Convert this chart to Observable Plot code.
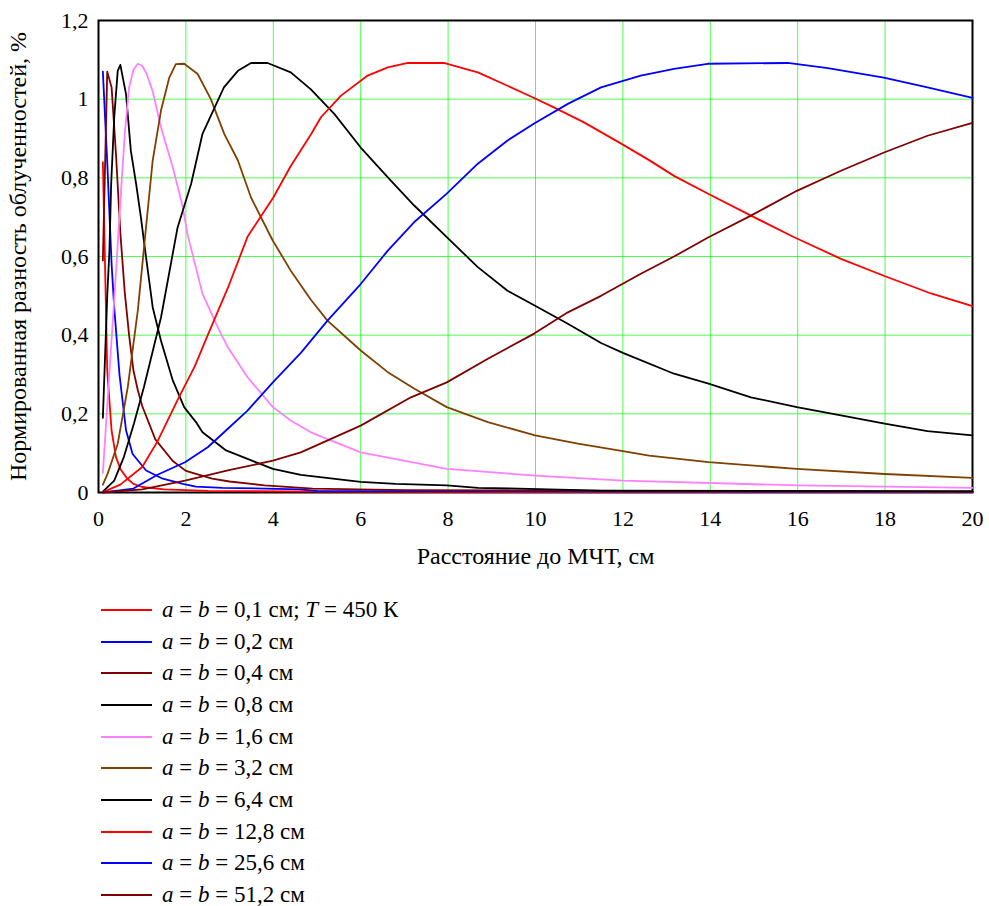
<!DOCTYPE html>
<html lang="ru">
<head>
<meta charset="utf-8">
<script src="https://cdn.jsdelivr.net/npm/d3@7"></script>
<script src="https://cdn.jsdelivr.net/npm/@observablehq/plot@0.6"></script>
<style>
  html, body { margin: 0; padding: 0; background: #fff; }
  #chart { width: 989px; }
  .legend { font-family: "Liberation Serif"; font-size: 23px; color: #000; margin-left: 101px; }
  .legend .row { display: flex; align-items: center; height: 31.7px; line-height: 20px; }
  .legend svg { display: block; margin-right: 10px; }
</style>
</head>
<body>
<div id="chart"></div>
<script>
// ---- data ----
const xTicks = [0, 2, 4, 6, 8, 10, 12, 14, 16, 18, 20];
const yTicks = [0, 0.2, 0.4, 0.6, 0.8, 1, 1.2];

const labels = [
  "<i>a</i> = <i>b</i> = 0,1 см; <i>T</i> = 450 К",
  "<i>a</i> = <i>b</i> = 0,2 см",
  "<i>a</i> = <i>b</i> = 0,4 см",
  "<i>a</i> = <i>b</i> = 0,8 см",
  "<i>a</i> = <i>b</i> = 1,6 см",
  "<i>a</i> = <i>b</i> = 3,2 см",
  "<i>a</i> = <i>b</i> = 6,4 см",
  "<i>a</i> = <i>b</i> = 12,8 см",
  "<i>a</i> = <i>b</i> = 25,6 см",
  "<i>a</i> = <i>b</i> = 51,2 см"
];
const colors = ["#ff0000", "#0000ff", "#800000", "#000000", "#ff80ff", "#804000", "#000000", "#ff0000", "#0000ff", "#800000"];

const x01 = [0.1,0.2,0.3,0.4,0.5,0.66,0.8,1.0,1.5,2.5,5,10,20];
const y01 = [0.84,0.31,0.157,0.09,0.06,0.035,0.022,0.014,0.008,0.004,0.002,0.001,0.001];

const x02 = [0.1,0.2,0.3,0.36,0.48,0.63,0.78,1.09,1.47,1.93,2.23,2.84,4.6,5,10,20];
const y02 = [1.07,0.84,0.58,0.47,0.30,0.158,0.098,0.056,0.035,0.022,0.015,0.012,0.008,0.004,0.003,0.002];

const x04 = [0.1,0.2,0.3,0.4,0.5,0.6,0.7,0.8,0.9,1.0,1.3,1.7,2.0,2.6,3.0,3.8,4.9,7,12,20];
const y04 = [0.59,1.07,1.03,0.86,0.66,0.51,0.40,0.31,0.26,0.22,0.135,0.08,0.055,0.035,0.028,0.018,0.01,0.006,0.004,0.003];

const x08 = [0.1,0.2,0.25,0.29,0.36,0.44,0.5,0.63,0.74,0.86,0.97,1.05,1.24,1.43,1.7,1.96,2.23,2.38,2.92,3.99,4.63,6.0,6.8,7.97,8.68,11.5,20];
const y08 = [0.19,0.5,0.615,0.785,0.954,1.072,1.087,1.013,0.869,0.785,0.70,0.63,0.471,0.386,0.285,0.217,0.179,0.153,0.107,0.06,0.045,0.027,0.022,0.018,0.012,0.005,0.003];

const x16 = [0.1,0.2,0.3,0.4,0.5,0.6,0.7,0.8,0.9,1.0,1.1,1.24,1.43,1.7,1.93,2.04,2.38,2.73,2.96,3.41,3.99,4.4,4.86,6.0,7.97,9.99,12,16,20];
const y16 = [0.05,0.22,0.39,0.56,0.74,0.91,1.03,1.075,1.09,1.085,1.065,1.02,0.928,0.827,0.725,0.655,0.505,0.42,0.369,0.293,0.217,0.183,0.153,0.102,0.06,0.043,0.03,0.018,0.012];

const x32 = [0.1,0.21,0.44,0.67,0.9,1.05,1.24,1.43,1.62,1.77,1.96,2.27,2.57,2.88,3.19,3.49,3.99,4.4,4.86,5.24,6.0,6.62,7.23,7.97,8.91,9.99,10.97,12,12.6,13.96,15.98,17.99,20];
const y32 = [0.02,0.048,0.124,0.268,0.463,0.632,0.844,0.971,1.055,1.089,1.09,1.064,1.0,0.911,0.844,0.75,0.64,0.564,0.49,0.437,0.361,0.306,0.264,0.217,0.179,0.145,0.124,0.105,0.094,0.077,0.06,0.047,0.037];

const x64 = [0.1,0.36,0.58,0.81,1.04,1.43,1.81,2.12,2.38,2.87,3.19,3.49,3.87,4.4,4.86,5.4,6.0,6.69,7.23,7.97,8.68,9.36,9.99,10.74,11.5,12.0,13.17,13.96,14.93,15.98,16.99,17.99,18.97,20];
const y64 = [0.002,0.03,0.09,0.175,0.268,0.445,0.674,0.785,0.912,1.03,1.072,1.092,1.092,1.068,1.025,0.962,0.877,0.793,0.729,0.649,0.573,0.513,0.475,0.429,0.38,0.355,0.302,0.277,0.242,0.217,0.196,0.175,0.156,0.145];

const x128 = [0.1,0.5,1.0,1.35,1.83,2.2,2.5,2.96,3.41,4.0,4.4,4.86,5.09,5.55,6.16,6.62,7.08,7.9,8.68,9.36,9.97,10.42,11.11,11.96,12.6,13.17,13.94,14.93,15.92,16.99,17.97,19.05,20];
const y128 = [0.001,0.02,0.065,0.13,0.24,0.32,0.40,0.52,0.65,0.75,0.83,0.91,0.954,1.009,1.06,1.081,1.092,1.092,1.068,1.034,1.003,0.979,0.941,0.887,0.845,0.805,0.76,0.704,0.649,0.594,0.551,0.506,0.474];

const x256 = [0.1,0.8,1.35,1.98,2.5,2.96,3.41,3.99,4.63,5.24,6.0,6.62,7.22,7.97,8.68,9.36,9.97,10.74,11.5,12.41,13.17,13.94,15.77,16.69,17.97,18.97,20];
const y256 = [0,0.01,0.045,0.077,0.115,0.162,0.208,0.28,0.355,0.437,0.53,0.615,0.687,0.76,0.836,0.895,0.938,0.988,1.03,1.06,1.077,1.09,1.092,1.079,1.055,1.03,1.003];

const x512 = [0.1,1.0,1.98,2.96,3.99,4.63,6.0,7.15,7.97,8.91,9.97,10.74,11.5,12.41,13.17,13.96,14.93,15.98,16.99,17.99,18.97,20];
const y512 = [0,0.008,0.03,0.056,0.081,0.102,0.17,0.242,0.28,0.34,0.404,0.458,0.50,0.556,0.60,0.649,0.704,0.767,0.818,0.865,0.907,0.94];

const xsAll = [x01, x02, x04, x08, x16, x32, x64, x128, x256, x512];
const ysAll = [y01, y02, y04, y08, y16, y32, y64, y128, y256, y512];

// ---- build chart ----
const fmt = d => String(d).replace(".", ",");
const lineMarks = xsAll.map((xs, i) =>
  Plot.line(d3.zip(xs, ysAll[i]), {x: d => d[0], y: d => d[1], stroke: colors[i], strokeWidth: 1.8})
);

const chart = Plot.plot({
  width: 989,
  height: 594,
  marginLeft: 98,
  marginRight: 17,
  marginTop: 20,
  marginBottom: 102,
  style: {fontFamily: "Liberation Serif", fontSize: "22px", color: "#000", background: "#fff", overflow: "visible"},
  x: {domain: [0, 20]},
  y: {domain: [0, 1.2]},
  marks: [
    Plot.gridX(xTicks, {stroke: "#00ff00", strokeOpacity: 0.7, strokeWidth: 1}),
    Plot.gridY(yTicks, {stroke: "#00ff00", strokeOpacity: 0.7, strokeWidth: 1}),
    Plot.axisX(xTicks, {tickSize: 0, tickPadding: 18, tickFormat: fmt, fontSize: 22, label: null}),
    Plot.axisX({tickSize: 0, ticks: [], label: "Расстояние до МЧТ, см", labelAnchor: "center", labelArrow: "none", labelOffset: 71, fontSize: 24}),
    Plot.axisY(yTicks, {tickSize: 0, tickPadding: 10, tickFormat: fmt, fontSize: 22, label: null}),
    Plot.axisY({tickSize: 0, ticks: [], label: "Нормированная разность облученностей, %", labelAnchor: "center", labelArrow: "none", labelOffset: 90, fontSize: 24}),
    Plot.frame({stroke: "#000", strokeWidth: 2}),
    ...lineMarks
  ]
});
document.getElementById("chart").appendChild(chart);

// ---- legend ----
const legend = document.createElement("div");
legend.className = "legend";
labels.forEach((lab, i) => {
  const row = document.createElement("div");
  row.className = "row";
  row.innerHTML = `<svg width="51" height="4"><line x1="0" x2="51" y1="2" y2="2" stroke="${colors[i]}" stroke-width="2"/></svg><span>${lab}</span>`;
  legend.appendChild(row);
});
document.body.appendChild(legend);
</script>
</body>
</html>
